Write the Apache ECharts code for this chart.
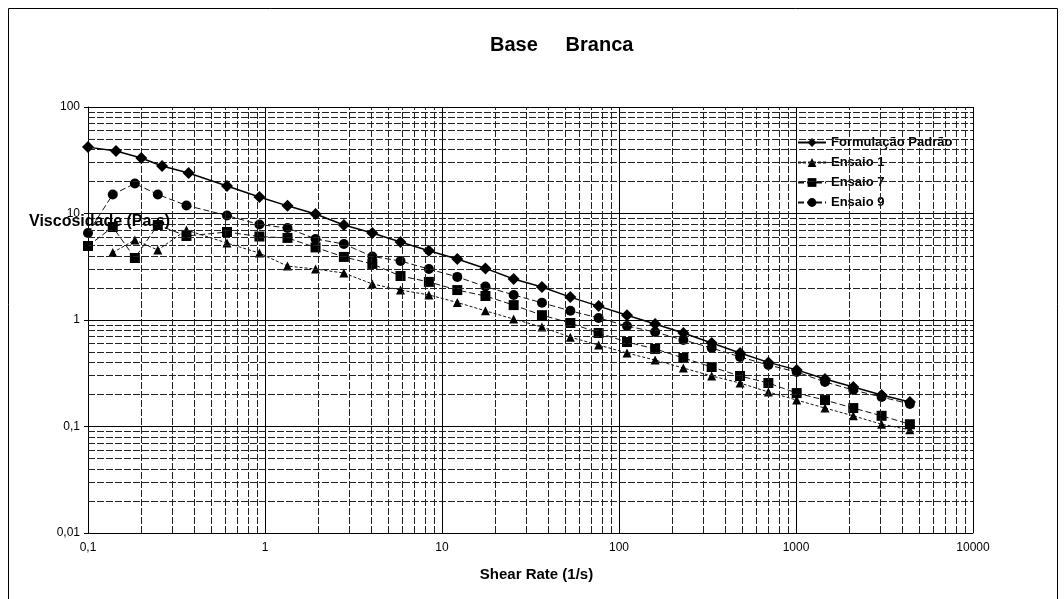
<!DOCTYPE html>
<html>
<head>
<meta charset="utf-8">
<script src="https://cdn.jsdelivr.net/npm/echarts@6/dist/echarts.min.js"></script>
<style>
html,body{margin:0;padding:0;background:#fff;}
#chart{width:1064px;height:599px;}
</style>
</head>
<body>
<div id="chart"></div>
<script>
// Shear rates (1/s)
const xPadrao = [0.1, 0.144, 0.2, 0.262, 0.37, 0.61, 0.93, 1.34, 1.93, 2.79, 4.04, 5.83, 8.43, 12.2, 17.6, 25.4, 36.7, 53.1, 76.7, 111, 160, 231, 334, 483, 698, 1009, 1458, 2107, 3045, 4400];
const xEnsaio = [0.1, 0.138, 0.184, 0.248, 0.36, 0.61, 0.93, 1.34, 1.93, 2.79, 4.04, 5.83, 8.43, 12.2, 17.6, 25.4, 36.7, 53.1, 76.7, 111, 160, 231, 334, 483, 698, 1009, 1458, 2107, 3045, 4400];
// Viscosity (Pa.s)
const padrao = [42, 38.6, 33.2, 27.9, 24.0, 18.1, 14.3, 11.8, 9.9, 7.8, 6.56, 5.4, 4.47, 3.74, 3.05, 2.43, 2.04, 1.64, 1.35, 1.11, 0.916, 0.755, 0.608, 0.49, 0.40, 0.34, 0.279, 0.235, 0.198, 0.17];
const ensaio1 = [null, 4.3, 5.64, 4.54, 7.0, 5.28, 4.25, 3.21, 3.01, 2.76, 2.18, 1.91, 1.72, 1.46, 1.22, 1.02, 0.859, 0.69, 0.582, 0.49, 0.42, 0.354, 0.298, 0.256, 0.211, 0.177, 0.149, 0.126, 0.105, 0.093];
const ensaio7 = [4.95, 7.47, 3.82, 7.8, 6.15, 6.7, 6.08, 5.9, 4.8, 3.91, 3.36, 2.59, 2.28, 1.91, 1.68, 1.38, 1.11, 0.937, 0.755, 0.621, 0.535, 0.44, 0.362, 0.298, 0.256, 0.206, 0.177, 0.149, 0.126, 0.105];
const ensaio9 = [6.56, 15.1, 19.1, 15.1, 11.9, 9.57, 7.88, 7.31, 5.77, 5.17, 3.95, 3.58, 3.01, 2.54, 2.06, 1.72, 1.45, 1.22, 1.045, 0.879, 0.77, 0.649, 0.546, 0.45, 0.378, 0.325, 0.262, 0.22, 0.189, 0.163];
const seriesNames = ['Formulação Padrão', 'Ensaio 1', 'Ensaio 7', 'Ensaio 9'];
// Tick labels
const xTickValues = [0.1, 1, 10, 100, 1000, 10000];
const xTickLabels = ['0,1', '1', '10', '100', '1000', '10000'];
const yTickValues = [0.01, 0.1, 1, 10, 100];
const yTickLabels = ['0,01', '0,1', '1', '10', '100'];

function pairs(xs, ys) {
  const out = [];
  for (let i = 0; i < ys.length; i++) if (ys[i] != null) out.push([xs[i], ys[i]]);
  return out;
}
function labelFor(values, labels) {
  return function (v) {
    let best = 0, bd = Infinity;
    for (let i = 0; i < values.length; i++) {
      const d = Math.abs(Math.log10(v) - Math.log10(values[i]));
      if (d < bd) { bd = d; best = i; }
    }
    return bd < 0.01 ? labels[best] : '';
  };
}
// minor gridline positions (2..9 within each decade)
const minorX = [], minorY = [];
for (let d = -1; d <= 3; d++) for (let k = 2; k <= 9; k++) minorX.push(k * Math.pow(10, d));
for (let d = -2; d <= 1; d++) for (let k = 2; k <= 9; k++) minorY.push(k * Math.pow(10, d));

const font = 'Liberation Sans, Arial, sans-serif';
const chart = echarts.init(document.getElementById('chart'));
const gridLines = minorX.map(v => ({ xAxis: v })).concat(minorY.map(v => ({ yAxis: v })));

chart.setOption({
  animation: false,
  backgroundColor: '#fff',
  title: [
    { text: 'Base     Branca', left: 490, top: 35, padding: 0,
      textStyle: { fontSize: 20, fontWeight: 'bold', fontFamily: font, color: '#000' } },
    { text: 'Viscosidade (Pa.s)', left: 29, top: 214, padding: 0, z: 10,
      textStyle: { fontSize: 16, fontWeight: 'bold', fontFamily: font, color: '#000' } }
  ],
  graphic: [
    { type: 'rect', shape: { x: 8.5, y: 8.5, width: 1049, height: 640 },
      style: { fill: null, stroke: '#000', lineWidth: 1 }, silent: true }
  ],
  legend: {
    orient: 'vertical', left: 792, top: 131, itemWidth: 28, itemHeight: 11, itemGap: 7,
    data: seriesNames,
    textStyle: { fontSize: 13, fontWeight: 'bold', fontFamily: font, color: '#000' },
    backgroundColor: 'transparent'
  },
  grid: { left: 88, right: 91, top: 107, bottom: 66 },
  xAxis: {
    type: 'log', logBase: 10, min: 0.1, max: 10000,
    name: 'Shear Rate (1/s)', nameLocation: 'middle', nameGap: 34,
    nameTextStyle: { fontSize: 15, fontWeight: 'bold', fontFamily: font, color: '#000', padding: [0, 0, 0, 12] },
    axisLine: { lineStyle: { color: '#000', width: 1 } },
    axisTick: { show: false },
    axisLabel: { formatter: labelFor(xTickValues, xTickLabels), fontSize: 12, fontFamily: font, color: '#000', margin: 9 },
    splitLine: { show: true, lineStyle: { color: '#000', width: 1 } }
  },
  yAxis: {
    type: 'log', logBase: 10, min: 0.01, max: 100,
    axisLine: { show: true, lineStyle: { color: '#000', width: 1 } },
    axisTick: { show: true, length: 4, lineStyle: { color: '#000' } },
    axisLabel: { formatter: labelFor(yTickValues, yTickLabels), fontSize: 12, fontFamily: font, color: '#000', margin: 8 },
    splitLine: { show: true, lineStyle: { color: '#000', width: 1 } }
  },
  series: [
    {
      type: 'line', data: [], z: 1, silent: true,
      markLine: {
        silent: true, symbol: ['none', 'none'], label: { show: false },
        lineStyle: { color: '#222', width: 1, type: [7, 2] },
        emphasis: { disabled: true },
        data: gridLines
      }
    },
    {
      name: seriesNames[0], type: 'line', z: 5, data: pairs(xPadrao, padrao),
      symbol: 'diamond', symbolSize: 12,
      itemStyle: { color: '#000' }, lineStyle: { color: '#000', width: 1.5, type: 'solid' }
    },
    {
      name: seriesNames[1], type: 'line', z: 4, data: pairs(xEnsaio, ensaio1),
      symbol: 'triangle', symbolSize: 9,
      itemStyle: { color: '#000' }, lineStyle: { color: '#111', width: 1, type: [3, 2] }
    },
    {
      name: seriesNames[2], type: 'line', z: 4, data: pairs(xEnsaio, ensaio7),
      symbol: 'rect', symbolSize: 10,
      itemStyle: { color: '#000' }, lineStyle: { color: '#111', width: 1, type: [6, 3] }
    },
    {
      name: seriesNames[3], type: 'line', z: 4, data: pairs(xEnsaio, ensaio9),
      symbol: 'circle', symbolSize: 10,
      itemStyle: { color: '#000' }, lineStyle: { color: '#111', width: 1, type: [6, 3] }
    }
  ]
});
</script>
</body>
</html>
